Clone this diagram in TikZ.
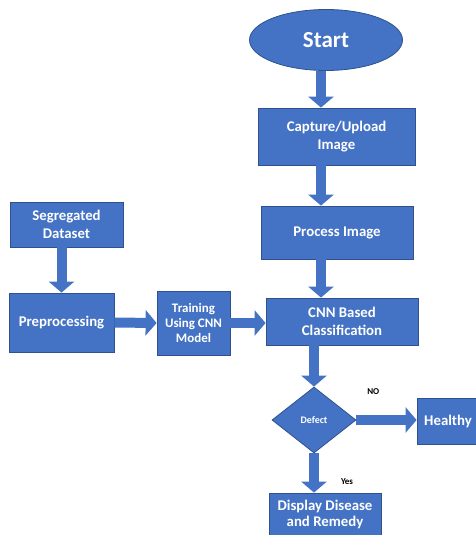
\documentclass[tikz,border=0pt]{standalone}
\usepackage{fontspec}
\setmainfont{Carlito}
\usepackage{tikz}
\usetikzlibrary{arrows.meta,shapes.geometric}
\definecolor{flowblue}{HTML}{4472C4}
\definecolor{flowedge}{HTML}{2F528F}

\begin{document}
\begin{tikzpicture}[
        x=1pt,
        y=-1pt,
        block/.style={draw=flowedge, fill=flowblue, line width=0.8pt, align=center, text=white, inner sep=1pt,
          font=\fontsize{14.8}{17.5}\selectfont\bfseries},
        startnode/.style={block, ellipse, inner sep=0pt, font=\fontsize{23}{26}\selectfont\bfseries},
        decision/.style={block, diamond, inner sep=0pt, font=\fontsize{10}{12}\selectfont\bfseries},
        blockarrow/.style={draw=flowblue, line width=10pt, -{Triangle[width=25pt,length=11pt]}},
        answer/.style={font=\fontsize{9}{10}\selectfont\bfseries, text=black, inner sep=0pt}
      ]
        \useasboundingbox (0,0) rectangle (476,535);

        % main column
        \node[startnode, minimum width=153, minimum height=61] (start) at (326,40) {Start};
        \node[block, minimum width=157, minimum height=57] (capture) at (336.5,136.5) {Capture/Upload\\Image};
        \node[block, minimum width=152, minimum height=53] (process) at (337,232.5) {Process Image};
        \node[block, minimum width=152, minimum height=47] (cnn) at (342,321.5) {CNN Based\\Classification};
        \node[decision, minimum width=84, minimum height=66] (defect) at (314,420) {Defect};
        \node[block, minimum width=62, minimum height=46] (healthy) at (448,421) {Healthy};
        \node[block, minimum width=112, minimum height=42, font=\fontsize{14.8}{16}\selectfont\bfseries] (display) at (325,514) {Display Disease\\and Remedy};

        % training branch
        \node[block, minimum width=113, minimum height=45] (segregated) at (66.5,224.5) {Segregated\\Dataset};
        \node[block, minimum width=105, minimum height=59] (prep) at (61.5,322.5) {Preprocessing};
        \node[block, minimum width=73, minimum height=64, font=\fontsize{13}{15}\selectfont\bfseries] (training) at (193.5,323) {Training\\Using CNN\\Model};

        \coordinate (spine) at (321,0);
        \draw[blockarrow] (start.south -| spine) -- (capture.north -| spine);
        \draw[blockarrow] (capture.south -| spine) -- (process.north -| spine);
        \draw[blockarrow] (process.south -| spine) -- (cnn.north -| spine);
        \draw[blockarrow] (cnn.south -| defect) -- (defect.north);
        \draw[blockarrow] (defect.east) -- (defect.east -| healthy.west)
          node[answer, pos=0.28, above=20pt] {NO};
        \draw[blockarrow] (defect.south) -- (defect.south |- display.north)
          node[answer, pos=0.72, right=22pt] {Yes};

        \draw[blockarrow] (segregated.south -| prep) -- (prep.north);
        \draw[blockarrow] (prep.east) -- (training.west);
        \draw[blockarrow] (training.east) -- (training.east -| cnn.west);
      \end{tikzpicture}
\end{document}
